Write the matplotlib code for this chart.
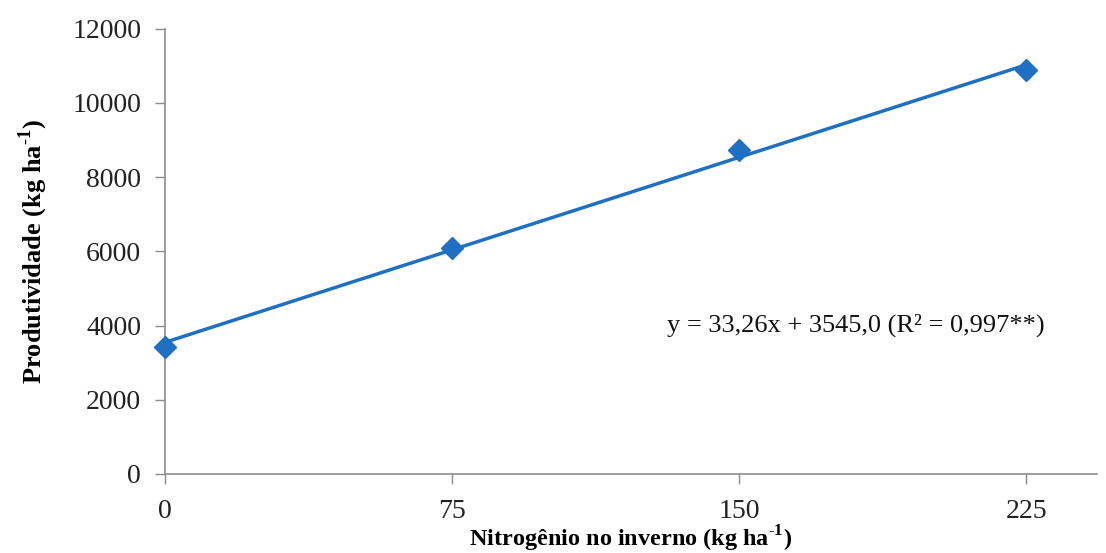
import matplotlib.pyplot as plt
import numpy as np

plt.rcParams['font.family'] = ['Liberation Serif', 'DejaVu Serif']
plt.rcParams['mathtext.fontset'] = 'custom'
plt.rcParams['mathtext.rm'] = 'Liberation Serif'
plt.rcParams['mathtext.bf'] = 'Liberation Serif:bold'

# data
nitrogen = [0, 75, 150, 225]
yield_kg = [3420, 6100, 8740, 10890]
slope = 33.26
intercept = 3545.0
x_ticks = [0, 75, 150, 225]
y_ticks = [0, 2000, 4000, 6000, 8000, 10000, 12000]

blue = '#1F6FC2'
axis_grey = '#8C8C8C'

fig = plt.figure(figsize=(11.06, 5.53), dpi=100)
ax = fig.add_axes([0.149, 0.143, 0.843, 0.805])

x_fit = np.array([nitrogen[0], nitrogen[-1]])
ax.plot(x_fit, slope * x_fit + intercept, color=blue, linewidth=2.5, zorder=2)
ax.plot(nitrogen, yield_kg, linestyle='none', marker='D', markersize=11,
        color=blue, zorder=3, clip_on=False)

ax.set_xlim(0, 243.5)
ax.set_ylim(0, 12000)
ax.set_xticks(x_ticks)
ax.set_yticks(y_ticks)
ax.tick_params(axis='both', labelsize=20, colors='#222222', length=7,
               width=1, direction='out')
ax.tick_params(axis='x', color=axis_grey, pad=11)
ax.tick_params(axis='y', color=axis_grey, pad=10)

for side in ['top', 'right']:
    ax.spines[side].set_visible(False)
for side in ['left', 'bottom']:
    ax.spines[side].set_color(axis_grey)
    ax.spines[side].set_linewidth(1.2)

ax.set_xlabel('Nitrogênio no inverno (kg ha$^{\\mathbf{\\text{-}1}}$)', fontsize=17.5,
              fontweight='bold', labelpad=0)
ax.set_ylabel('Produtividade (kg ha$^{\\mathbf{\\text{-}1}}$)', fontsize=19,
              fontweight='bold', labelpad=16)

ax.text(0.944, 0.335, 'y = 33,26x + 3545,0 (R² = 0,997**)', transform=ax.transAxes,
        fontsize=19, ha='right', va='center', color='#111111')

plt.savefig('out.png', dpi=100)
